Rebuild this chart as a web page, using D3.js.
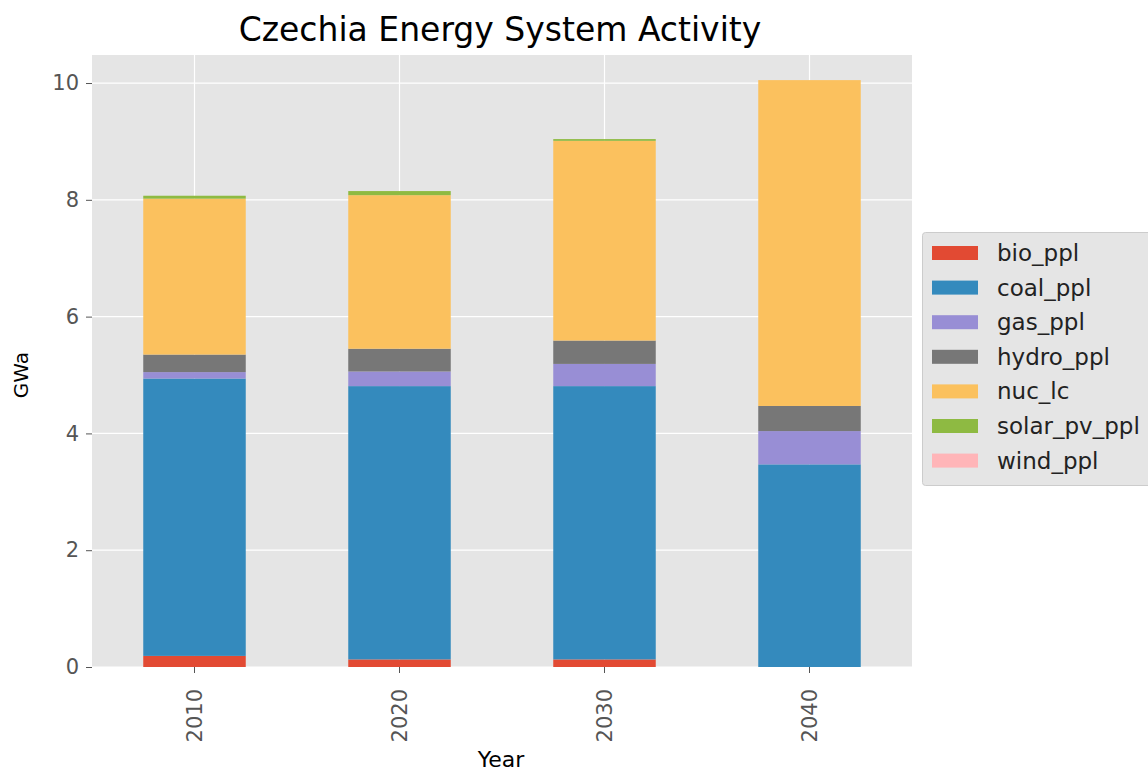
<!DOCTYPE html>
<html><head><meta charset="utf-8">
<script src="https://cdn.jsdelivr.net/npm/d3@7"></script>
<style>body{margin:0;background:#fff;} svg{display:block;font-family:"DejaVu Sans",sans-serif;}</style>
</head><body>
<svg id="c" width="1148" height="771"></svg>
<script>
const years = ["2010","2020","2030","2040"];
const seriesNames = ["bio_ppl","coal_ppl","gas_ppl","hydro_ppl","nuc_lc","solar_pv_ppl","wind_ppl"];
const bio_ppl = [0.19, 0.13, 0.13, 0.0];
const coal_ppl = [4.75, 4.68, 4.68, 3.47];
const gas_ppl = [0.11, 0.25, 0.38, 0.57];
const hydro_ppl = [0.30, 0.39, 0.40, 0.43];
const nuc_lc = [2.67, 2.63, 3.42, 5.58];
const solar_pv_ppl = [0.05, 0.07, 0.03, 0.0];
const wind_ppl = [0, 0, 0, 0];
const colors = ["#E24A33","#348ABD","#988ED5","#777777","#FBC15E","#8EBA42","#FFB5B8"];
const yTicks = [0,2,4,6,8,10];

const seriesVals = {bio_ppl, coal_ppl, gas_ppl, hydro_ppl, nuc_lc, solar_pv_ppl, wind_ppl};
const rows = years.map((y,i)=>{const r={year:y}; seriesNames.forEach(s=>r[s]=seriesVals[s][i]); return r;});
const stacked = d3.stack().keys(seriesNames)(rows);

const svg = d3.select("#c");
const L=92, R=912, T=55, B=667;
const x = d3.scaleBand().domain(years).range([L,R]).paddingInner(0.5).paddingOuter(0.25);
const y = d3.scaleLinear().domain([0,10.48]).range([B,T]);

svg.append("rect").attr("x",L).attr("y",T).attr("width",R-L).attr("height",B-T).attr("fill","#E5E5E5");
// grid
svg.append("g").selectAll("line").data(yTicks).join("line")
  .attr("x1",L).attr("x2",R).attr("y1",d=>y(d)).attr("y2",d=>y(d)).attr("stroke","#fff").attr("stroke-width",1.2);
svg.append("g").selectAll("line").data(years).join("line")
  .attr("x1",d=>x(d)+x.bandwidth()/2).attr("x2",d=>x(d)+x.bandwidth()/2).attr("y1",T).attr("y2",B).attr("stroke","#fff").attr("stroke-width",1.2);

// bars
svg.append("g").selectAll("g").data(stacked).join("g")
  .attr("fill",(d,i)=>colors[i])
  .selectAll("rect").data(d=>d).join("rect")
  .attr("x",d=>x(d.data.year)).attr("width",x.bandwidth())
  .attr("y",d=>y(d[1])).attr("height",d=>Math.max(0,y(d[0])-y(d[1])));

// axes
const ya = svg.append("g").attr("transform",`translate(${L},0)`)
  .call(d3.axisLeft(y).tickValues(yTicks).tickSize(6).tickPadding(7));
ya.select(".domain").remove();
ya.selectAll("line").attr("stroke","#555");
ya.selectAll("text").attr("fill","#555").style("font-size","21px").style("font-family","DejaVu Sans");

const xa = svg.append("g").attr("transform",`translate(0,${B})`)
  .call(d3.axisBottom(x).tickSize(6).tickPadding(6));
xa.select(".domain").remove();
xa.selectAll("line").attr("stroke","#555");
xa.selectAll("text").attr("fill","#555").style("font-size","21px").style("font-family","DejaVu Sans")
  .attr("transform","rotate(-90)").attr("text-anchor","end").attr("dy","0").attr("y",0).attr("x",-22)
  .attr("dominant-baseline","central");

// labels
svg.append("text").attr("x",500).attr("y",41).attr("text-anchor","middle")
  .style("font-size","33px").attr("fill","#000").text("Czechia Energy System Activity");
svg.append("text").attr("x",501).attr("y",767).attr("text-anchor","middle")
  .style("font-size","22px").attr("fill","#000").text("Year");
svg.append("text").attr("transform","translate(28,375) rotate(-90)").attr("text-anchor","middle")
  .style("font-size","20px").attr("fill","#000").text("GWa");

// legend
const lg = svg.append("g");
lg.append("rect").attr("x",922.5).attr("y",232.5).attr("width",240).attr("height",253).attr("rx",3)
  .attr("fill","#E5E5E5").attr("stroke","#ccc");
const ent = lg.selectAll("g.e").data(seriesNames).join("g").attr("class","e")
  .attr("transform",(d,i)=>`translate(0,${253+i*34.6})`);
ent.append("rect").attr("x",932).attr("y",-7).attr("width",46).attr("height",14).attr("fill",(d,i)=>colors[i]);
ent.append("text").attr("x",997).attr("y",0).attr("dominant-baseline","central")
  .style("font-size","23px").attr("fill","#222").text(d=>d);
</script>
</body></html>
